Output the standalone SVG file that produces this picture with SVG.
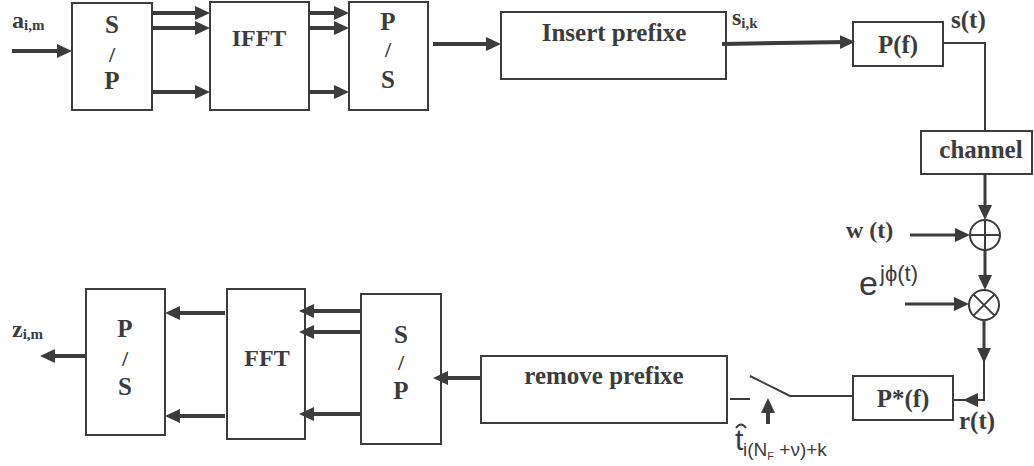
<svg xmlns="http://www.w3.org/2000/svg" width="1034" height="466" viewBox="0 0 1034 466">
  <style>
    .box { fill: #fff; stroke: #3c3c3c; stroke-width: 2; }
    .lbl { font-family: "Liberation Serif", "Times New Roman", serif; font-weight: bold; fill: #3c3c3c; }
    .mid { text-anchor: middle; }
    .sans { font-family: "Liberation Sans", Arial, sans-serif; fill: #3c3c3c; }
    .wire { fill: none; stroke: #3c3c3c; stroke-width: 2; }
    .bus { fill: none; stroke: #3c3c3c; stroke-width: 4; marker-end: url(#ah); }
    .bus3 { fill: none; stroke: #3c3c3c; stroke-width: 3; marker-end: url(#ah); }
  </style>
  <defs>
    <!-- tip sits 8px past the line end -->
    <marker id="ah" markerUnits="userSpaceOnUse" markerWidth="16" markerHeight="16" refX="7" refY="8" orient="auto">
      <path d="M0,1 L15,8 L0,15 Z" fill="#3c3c3c"/>
    </marker>
  </defs>
  <rect width="1034" height="466" fill="#fff"/>

  <!-- transmitter -->
  <g id="sp-tx">
    <rect class="box" x="72" y="3" width="80" height="107"/>
    <text class="lbl mid" x="112" y="33" font-size="25">S</text>
    <text class="lbl mid" x="112" y="62" font-size="22">/</text>
    <text class="lbl mid" x="112" y="89" font-size="25">P</text>
  </g>
  <g id="ifft">
    <rect class="box" x="210" y="2" width="99" height="108"/>
    <text class="lbl mid" x="259" y="46" font-size="24">IFFT</text>
  </g>
  <g id="ps-tx">
    <rect class="box" x="349" y="2" width="79" height="108"/>
    <text class="lbl mid" x="388" y="30" font-size="25">P</text>
    <text class="lbl mid" x="388" y="57" font-size="22">/</text>
    <text class="lbl mid" x="388" y="88" font-size="25">S</text>
  </g>
  <g id="insert-prefix">
    <rect class="box" x="501" y="12" width="225" height="67"/>
    <text class="lbl mid" x="614" y="41" font-size="25">Insert prefixe</text>
  </g>
  <g id="pf">
    <rect class="box" x="853" y="22" width="90" height="44"/>
    <text class="lbl mid" x="898" y="53" font-size="25">P(f)</text>
  </g>
  <g id="channel">
    <rect class="box" x="921" y="131" width="111" height="43"/>
    <text class="lbl mid" x="981" y="158" font-size="25">channel</text>
  </g>
  <g id="adder">
    <circle cx="985" cy="235" r="15" class="wire" stroke-width="1.8"/>
    <path d="M970,235 H1000 M985,220 V250" class="wire" stroke-width="1.5"/>
  </g>
  <g id="mixer">
    <circle cx="984" cy="305" r="15" class="wire" stroke-width="1.8"/>
    <path d="M973.4,294.4 L994.6,315.6 M994.6,294.4 L973.4,315.6" class="wire" stroke-width="1.5"/>
  </g>

  <!-- receiver -->
  <g id="pstar-f">
    <rect class="box" x="853" y="376" width="100" height="44"/>
    <text class="lbl mid" x="903" y="407" font-size="25">P*(f)</text>
  </g>
  <g id="remove-prefix">
    <rect class="box" x="481" y="356" width="246" height="67"/>
    <text class="lbl mid" x="604" y="384" font-size="25">remove prefixe</text>
  </g>
  <g id="sp-rx">
    <rect class="box" x="361" y="294" width="80" height="150"/>
    <text class="lbl mid" x="401" y="343" font-size="25">S</text>
    <text class="lbl mid" x="401" y="370" font-size="22">/</text>
    <text class="lbl mid" x="401" y="399" font-size="25">P</text>
  </g>
  <g id="fft">
    <rect class="box" x="227" y="289" width="78" height="150"/>
    <text class="lbl mid" x="267" y="366" font-size="24">FFT</text>
  </g>
  <g id="ps-rx">
    <rect class="box" x="86" y="289" width="79" height="146"/>
    <text class="lbl mid" x="125" y="337" font-size="25">P</text>
    <text class="lbl mid" x="125" y="366" font-size="22">/</text>
    <text class="lbl mid" x="125" y="395" font-size="25">S</text>
  </g>

  <!-- signal labels -->
  <g id="labels">
    <text class="lbl" x="12" y="28" font-size="24">a<tspan font-size="15" dy="2">i,m</tspan></text>
    <text class="lbl" x="732" y="25" font-size="24">s<tspan font-size="15" dy="3">i,k</tspan></text>
    <text class="lbl" x="951" y="28" font-size="25">s(t)</text>
    <text class="lbl" x="846" y="238" font-size="24">w (t)</text>
    <text class="sans" x="859" y="295" font-size="34">e</text>
    <text class="sans" x="880" y="281" font-size="22">jϕ(t)</text>
    <text class="lbl" x="959" y="429" font-size="25">r(t)</text>
    <text class="lbl" x="12" y="337" font-size="24">z<tspan font-size="15" dy="2">i,m</tspan></text>
    <text class="sans" x="735" y="450" font-size="30">t</text>
    <path d="M736,428 Q741,421 746,428" class="wire" stroke-width="1"/>
    <text class="sans" x="743" y="456" font-size="19">i(N<tspan font-size="11" dy="4">F</tspan><tspan dy="-4"> +ν)+k</tspan></text>
  </g>

  <!-- connectors -->
  <g id="connectors">
    <line class="bus" x1="12" y1="51" x2="64" y2="51"/>
    <line class="bus" x1="152" y1="13" x2="202" y2="13"/>
    <line class="bus" x1="152" y1="28" x2="202" y2="28"/>
    <line class="bus" x1="152" y1="92" x2="202" y2="92"/>
    <line class="bus" x1="309" y1="13" x2="341" y2="13"/>
    <line class="bus" x1="309" y1="28" x2="341" y2="28"/>
    <line class="bus" x1="309" y1="92" x2="341" y2="92"/>
    <line class="bus" x1="433" y1="44" x2="493" y2="44"/>
    <line class="bus" x1="722" y1="44" x2="847" y2="42"/>
    <polyline class="wire" points="943,43 985,43 985,131"/>
    <line class="bus3" x1="985" y1="174" x2="985" y2="212"/>
    <line class="bus3" x1="910" y1="235" x2="962" y2="235"/>
    <line class="bus3" x1="985" y1="250" x2="985" y2="282"/>
    <line class="bus3" x1="905" y1="304" x2="961" y2="304"/>
    <line class="bus3" x1="984" y1="320" x2="984" y2="355"/>
    <polyline class="wire" points="984,360 984,400 953,400"/>
    <path d="M963,400 L978,393 L978,407 Z" fill="#3c3c3c"/>
    <!-- sampling switch -->
    <polyline class="wire" points="853,396 790,396 750,376"/>
    <line class="wire" x1="730" y1="399" x2="750" y2="399"/>
    <line class="bus" x1="768" y1="424" x2="768" y2="406"/>
    <line class="bus" x1="481" y1="378" x2="441" y2="378"/>
    <line class="bus" x1="361" y1="311" x2="307" y2="311"/>
    <line class="bus" x1="361" y1="332" x2="307" y2="332"/>
    <line class="bus" x1="361" y1="414" x2="307" y2="414"/>
    <line class="bus" x1="225" y1="313" x2="173" y2="313"/>
    <line class="bus" x1="225" y1="416" x2="173" y2="416"/>
    <line class="bus" x1="86" y1="356" x2="48" y2="356"/>
  </g>
</svg>
